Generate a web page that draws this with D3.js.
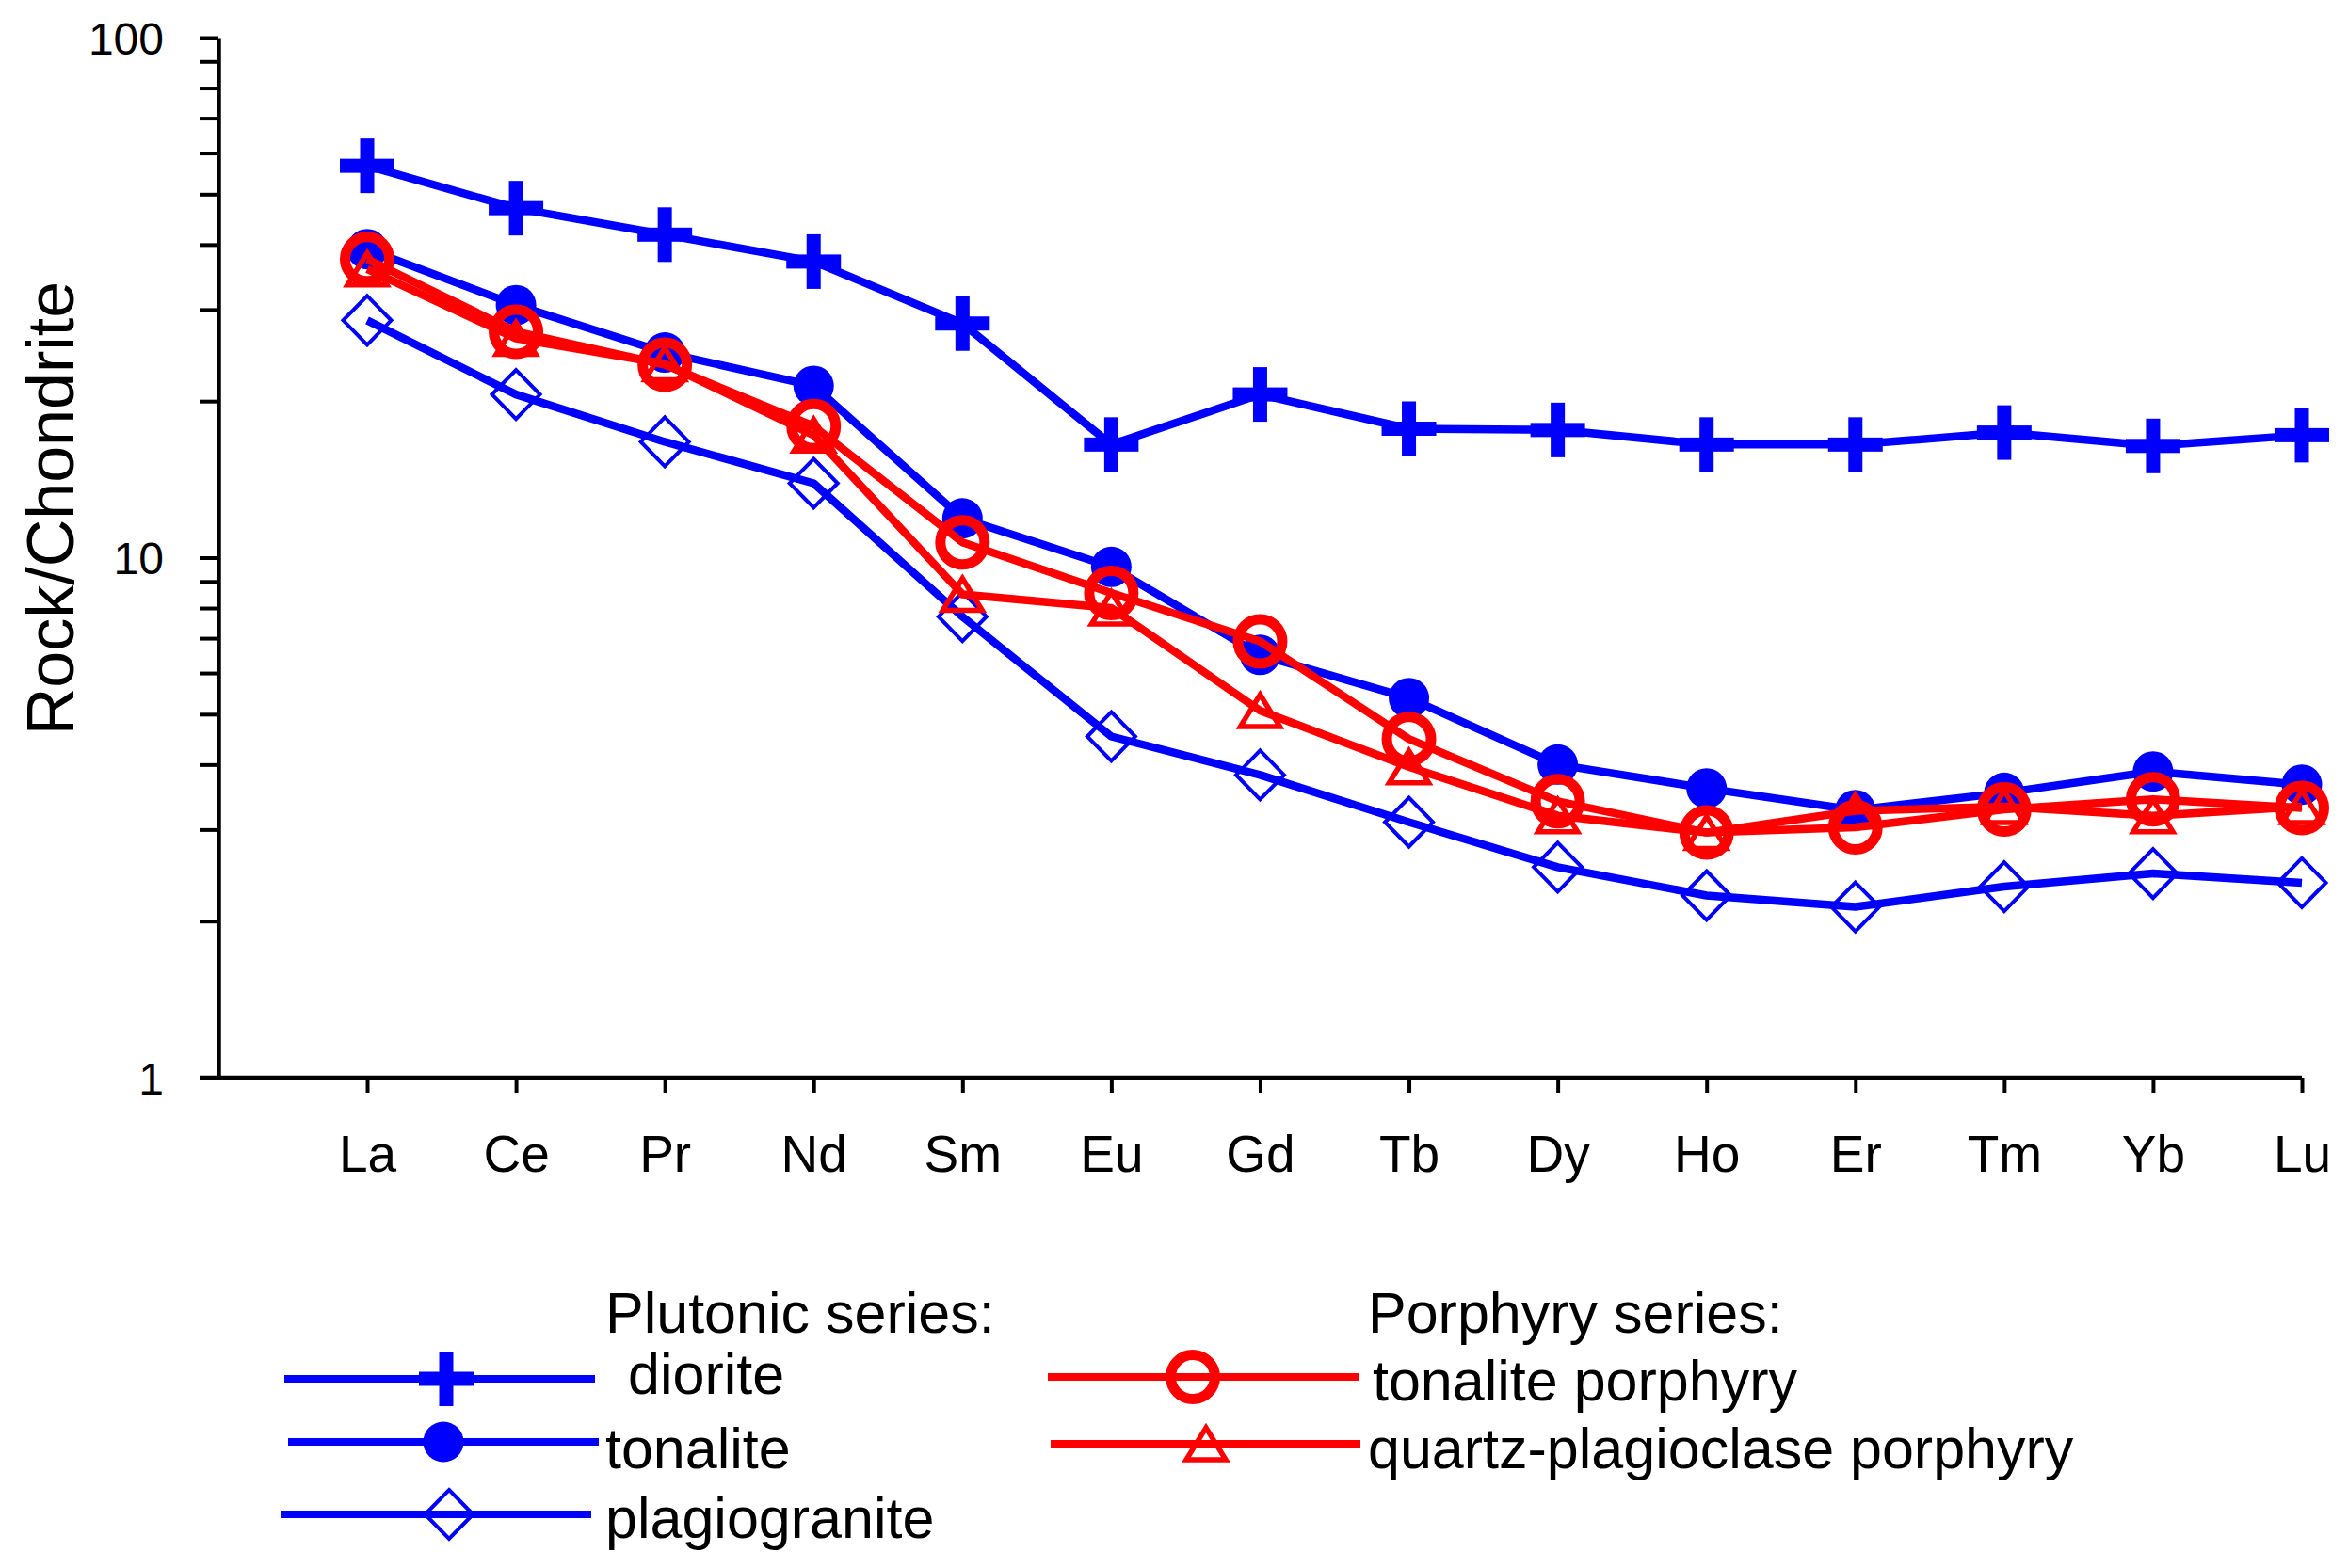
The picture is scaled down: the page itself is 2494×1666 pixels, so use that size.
<!DOCTYPE html>
<html>
<head>
<meta charset="utf-8">
<script src="https://cdnjs.cloudflare.com/ajax/libs/d3/7.8.5/d3.min.js"></script>
<style>
  body { margin: 0; background: #fff; }
  text { font-family: Arial, "Liberation Sans", sans-serif; fill: #000; }
</style>
</head>
<body>
<svg id="chart" width="2494" height="1666"></svg>
<script>
// REE values normalised to chondrite
var elements = ["La", "Ce", "Pr", "Nd", "Sm", "Eu", "Gd", "Tb", "Dy", "Ho", "Er", "Tm", "Yb", "Lu"];

var diorite          = [56.7, 47.0, 41.8, 37.1, 28.2, 16.5, 20.6, 17.7, 17.6, 16.5, 16.5, 17.4, 16.4, 17.2];
var tonalite         = [39.2, 30.6, 24.8, 21.4, 11.9, 9.6, 6.5, 5.37, 4.0, 3.6, 3.27, 3.53, 3.88, 3.66];
var plagiogranite    = [28.6, 20.6, 16.7, 13.9, 7.7, 4.53, 3.82, 3.10, 2.54, 2.24, 2.13, 2.33, 2.47, 2.37];
var tonalitePorphyry = [37.5, 27.2, 23.5, 17.9, 10.7, 8.55, 6.9, 4.48, 3.40, 2.96, 3.03, 3.28, 3.43, 3.30];
var qpPorphyry       = [35.9, 26.4, 23.6, 17.2, 8.5, 8.0, 5.08, 3.96, 3.19, 2.96, 3.26, 3.32, 3.19, 3.32];

var yMajor = [1, 10, 100];

var BLUE = "#0000ff", RED = "#ff0000";

var series = [
  { name: "diorite",                     values: diorite,          color: BLUE, marker: "plus" },
  { name: "tonalite",                    values: tonalite,         color: BLUE, marker: "dot" },
  { name: "plagiogranite",               values: plagiogranite,    color: BLUE, marker: "diamond" },
  { name: "tonalite porphyry",           values: tonalitePorphyry, color: RED,  marker: "ring" },
  { name: "quartz-plagioclase porphyry", values: qpPorphyry,       color: RED,  marker: "triangle" }
];

var svg = d3.select("#chart");

var x = d3.scalePoint().domain(elements).range([390, 2445]);
var y = d3.scaleLog().domain([1, 100]).range([1145, 40]);

// minor + major ticks for every decade
var yTicks = [];
for (var d = 1; d < 100; d *= 10) {
  for (var m = 1; m < 10; m++) yTicks.push(d * m);
}
yTicks.push(100);

var yAxis = svg.append("g")
  .attr("transform", "translate(232,0)")
  .call(d3.axisLeft(y)
    .tickValues(yTicks)
    .tickSize(20)
    .tickSizeOuter(0)
    .tickPadding(38)
    .tickFormat(function (v) { return yMajor.indexOf(v) >= 0 ? v : ""; }));
yAxis.selectAll("line").attr("stroke", "#000").attr("stroke-width", 4);
yAxis.select(".domain").attr("stroke", "#000").attr("stroke-width", 4.5);
yAxis.selectAll("text").style("font-size", "48px").attr("dy", "0.36em");

var xAxis = svg.append("g")
  .attr("transform", "translate(0,1145)")
  .call(d3.axisBottom(x).tickSize(16).tickPadding(45));
xAxis.select(".domain").remove();
xAxis.selectAll("line").attr("stroke", "#000").attr("stroke-width", 4);
xAxis.selectAll("text").style("font-size", "55px");

svg.append("line")
  .attr("x1", 212).attr("x2", x(elements[elements.length - 1]))
  .attr("y1", y(1)).attr("y2", y(1))
  .attr("stroke", "#000").attr("stroke-width", 4.5);

svg.append("text")
  .attr("transform", "translate(78,540) rotate(-90)")
  .attr("text-anchor", "middle")
  .style("font-size", "70px")
  .text("Rock/Chondrite");

function drawMarker(g, type, color) {
  if (type === "plus") {
    g.append("rect").attr("x", -29).attr("y", -7.5).attr("width", 58).attr("height", 15).attr("fill", color);
    g.append("rect").attr("x", -7.5).attr("y", -29).attr("width", 15).attr("height", 58).attr("fill", color);
  } else if (type === "dot") {
    g.append("circle").attr("r", 21.5).attr("fill", color);
  } else if (type === "diamond") {
    g.append("path").attr("d", "M0,-26L25.5,0L0,26L-25.5,0Z")
      .attr("fill", "none").attr("stroke", color).attr("stroke-width", 4);
  } else if (type === "ring") {
    g.append("circle").attr("r", 23.5)
      .attr("fill", "none").attr("stroke", color).attr("stroke-width", 11);
  } else if (type === "triangle") {
    g.append("path").attr("d", "M0,-17L21,17L-21,17Z")
      .attr("fill", "none").attr("stroke", color).attr("stroke-width", 5.5);
  }
}

var line = d3.line()
  .x(function (v, i) { return x(elements[i]); })
  .y(function (v) { return y(v); });

series.forEach(function (s) {
  var g = svg.append("g");
  g.append("path")
    .attr("d", line(s.values))
    .attr("fill", "none")
    .attr("stroke", s.color)
    .attr("stroke-width", 8.5)
    .attr("stroke-linejoin", "round");
  g.selectAll("g.mk")
    .data(s.values)
    .enter().append("g")
    .attr("class", "mk")
    .attr("transform", function (v, i) { return "translate(" + x(elements[i]) + "," + y(v) + ")"; })
    .each(function () { drawMarker(d3.select(this), s.marker, s.color); });
});

// legend
var legendHeads = [
  { label: "Plutonic series:", x: 643, y: 1416 },
  { label: "Porphyry series:", x: 1453, y: 1416 }
];
var legendRows = [
  { s: 0, x1: 302,  x2: 632,  y: 1465, mx: 474,  tx: 667,  ty: 1481 },
  { s: 1, x1: 306,  x2: 636,  y: 1532, mx: 471,  tx: 643,  ty: 1560 },
  { s: 2, x1: 299,  x2: 628,  y: 1609, mx: 477,  tx: 643,  ty: 1634 },
  { s: 3, x1: 1113, x2: 1443, y: 1463, mx: 1267, tx: 1458, ty: 1488 },
  { s: 4, x1: 1116, x2: 1445, y: 1534, mx: 1281, tx: 1453, ty: 1560 }
];

svg.selectAll("text.head")
  .data(legendHeads)
  .enter().append("text")
  .attr("class", "head")
  .attr("x", function (d) { return d.x; })
  .attr("y", function (d) { return d.y; })
  .style("font-size", "61px")
  .text(function (d) { return d.label; });

legendRows.forEach(function (r) {
  var s = series[r.s];
  svg.append("line")
    .attr("x1", r.x1).attr("x2", r.x2).attr("y1", r.y).attr("y2", r.y)
    .attr("stroke", s.color).attr("stroke-width", 8);
  drawMarker(svg.append("g").attr("transform", "translate(" + r.mx + "," + r.y + ")"), s.marker, s.color);
  svg.append("text")
    .attr("x", r.tx).attr("y", r.ty)
    .style("font-size", "61px")
    .text(s.name);
});
</script>
</body>
</html>
